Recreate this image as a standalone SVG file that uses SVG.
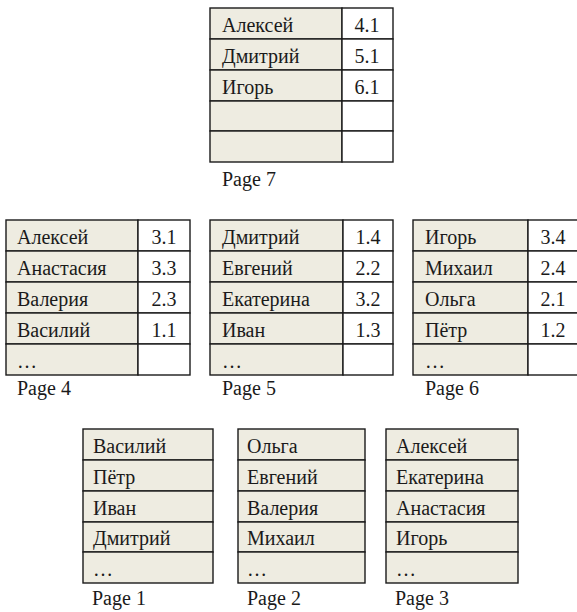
<svg xmlns="http://www.w3.org/2000/svg" width="577" height="612" viewBox="0 0 577 612">
<style>
.n{fill:#eeece1;stroke:#1a1a1a;stroke-width:1.4}
.v{fill:#ffffff;stroke:#1a1a1a;stroke-width:1.4}
text{font-family:"Liberation Serif","Times New Roman",serif;font-size:20px;fill:#1a1a1a}
.c{text-anchor:middle}
</style>
<rect width="577" height="612" fill="#ffffff"/>
<g id="page7">
<rect class="n" x="210" y="8" width="132" height="31"/><rect class="v" x="342" y="8" width="51" height="31"/>
<rect class="n" x="210" y="39" width="132" height="31"/><rect class="v" x="342" y="39" width="51" height="31"/>
<rect class="n" x="210" y="70" width="132" height="31"/><rect class="v" x="342" y="70" width="51" height="31"/>
<rect class="n" x="210" y="101" width="132" height="30"/><rect class="v" x="342" y="101" width="51" height="30"/>
<rect class="n" x="210" y="131" width="132" height="31"/><rect class="v" x="342" y="131" width="51" height="31"/>
<text x="222" y="32">Алексей</text><text class="c" x="367" y="32">4.1</text>
<text x="222" y="63">Дмитрий</text><text class="c" x="367" y="63">5.1</text>
<text x="222" y="94">Игорь</text><text class="c" x="367" y="94">6.1</text>
<text x="222" y="186">Page 7</text>
</g>
<g id="page4">
<rect class="n" x="6" y="220" width="132" height="31"/><rect class="v" x="138" y="220" width="52" height="31"/>
<rect class="n" x="6" y="251" width="132" height="31"/><rect class="v" x="138" y="251" width="52" height="31"/>
<rect class="n" x="6" y="282" width="132" height="31"/><rect class="v" x="138" y="282" width="52" height="31"/>
<rect class="n" x="6" y="313" width="132" height="31"/><rect class="v" x="138" y="313" width="52" height="31"/>
<rect class="n" x="6" y="344" width="132" height="31"/><rect class="v" x="138" y="344" width="52" height="31"/>
<text x="17" y="244">Алексей</text><text class="c" x="164" y="244">3.1</text>
<text x="17" y="275">Анастасия</text><text class="c" x="164" y="275">3.3</text>
<text x="17" y="306">Валерия</text><text class="c" x="164" y="306">2.3</text>
<text x="17" y="337">Василий</text><text class="c" x="164" y="337">1.1</text>
<text x="17" y="368">…</text>
<text x="17" y="395">Page 4</text>
</g>
<g id="page5">
<rect class="n" x="210" y="220" width="133" height="31"/><rect class="v" x="343" y="220" width="50" height="31"/>
<rect class="n" x="210" y="251" width="133" height="31"/><rect class="v" x="343" y="251" width="50" height="31"/>
<rect class="n" x="210" y="282" width="133" height="31"/><rect class="v" x="343" y="282" width="50" height="31"/>
<rect class="n" x="210" y="313" width="133" height="31"/><rect class="v" x="343" y="313" width="50" height="31"/>
<rect class="n" x="210" y="344" width="133" height="31"/><rect class="v" x="343" y="344" width="50" height="31"/>
<text x="222" y="244">Дмитрий</text><text class="c" x="368" y="244">1.4</text>
<text x="222" y="275">Евгений</text><text class="c" x="368" y="275">2.2</text>
<text x="222" y="306">Екатерина</text><text class="c" x="368" y="306">3.2</text>
<text x="222" y="337">Иван</text><text class="c" x="368" y="337">1.3</text>
<text x="222" y="368">…</text>
<text x="222" y="395">Page 5</text>
</g>
<g id="page6">
<rect class="n" x="413" y="220" width="115" height="31"/><rect class="v" x="528" y="220" width="52" height="31"/>
<rect class="n" x="413" y="251" width="115" height="31"/><rect class="v" x="528" y="251" width="52" height="31"/>
<rect class="n" x="413" y="282" width="115" height="31"/><rect class="v" x="528" y="282" width="52" height="31"/>
<rect class="n" x="413" y="313" width="115" height="31"/><rect class="v" x="528" y="313" width="52" height="31"/>
<rect class="n" x="413" y="344" width="115" height="31"/><rect class="v" x="528" y="344" width="52" height="31"/>
<text x="425" y="244">Игорь</text><text class="c" x="553" y="244">3.4</text>
<text x="425" y="275">Михаил</text><text class="c" x="553" y="275">2.4</text>
<text x="425" y="306">Ольга</text><text class="c" x="553" y="306">2.1</text>
<text x="425" y="337">Пётр</text><text class="c" x="553" y="337">1.2</text>
<text x="425" y="368">…</text>
<text x="425" y="395">Page 6</text>
</g>
<g id="page1">
<rect class="n" x="83" y="429" width="130" height="31"/>
<rect class="n" x="83" y="460" width="130" height="31"/>
<rect class="n" x="83" y="491" width="130" height="31"/>
<rect class="n" x="83" y="522" width="130" height="30"/>
<rect class="n" x="83" y="552" width="130" height="31"/>
<text x="93" y="453">Василий</text>
<text x="93" y="484">Пётр</text>
<text x="93" y="515">Иван</text>
<text x="93" y="545">Дмитрий</text>
<text x="93" y="576">…</text>
<text x="92" y="605">Page 1</text>
</g>
<g id="page2">
<rect class="n" x="238" y="429" width="127" height="31"/>
<rect class="n" x="238" y="460" width="127" height="31"/>
<rect class="n" x="238" y="491" width="127" height="31"/>
<rect class="n" x="238" y="522" width="127" height="30"/>
<rect class="n" x="238" y="552" width="127" height="31"/>
<text x="247" y="453">Ольга</text>
<text x="247" y="484">Евгений</text>
<text x="247" y="515">Валерия</text>
<text x="247" y="545">Михаил</text>
<text x="247" y="576">…</text>
<text x="247" y="605">Page 2</text>
</g>
<g id="page3">
<rect class="n" x="386" y="429" width="132" height="31"/>
<rect class="n" x="386" y="460" width="132" height="31"/>
<rect class="n" x="386" y="491" width="132" height="31"/>
<rect class="n" x="386" y="522" width="132" height="30"/>
<rect class="n" x="386" y="552" width="132" height="31"/>
<text x="396" y="453">Алексей</text>
<text x="396" y="484">Екатерина</text>
<text x="396" y="515">Анастасия</text>
<text x="396" y="545">Игорь</text>
<text x="396" y="576">…</text>
<text x="395" y="605">Page 3</text>
</g>
<g id="connectors"></g>
</svg>
